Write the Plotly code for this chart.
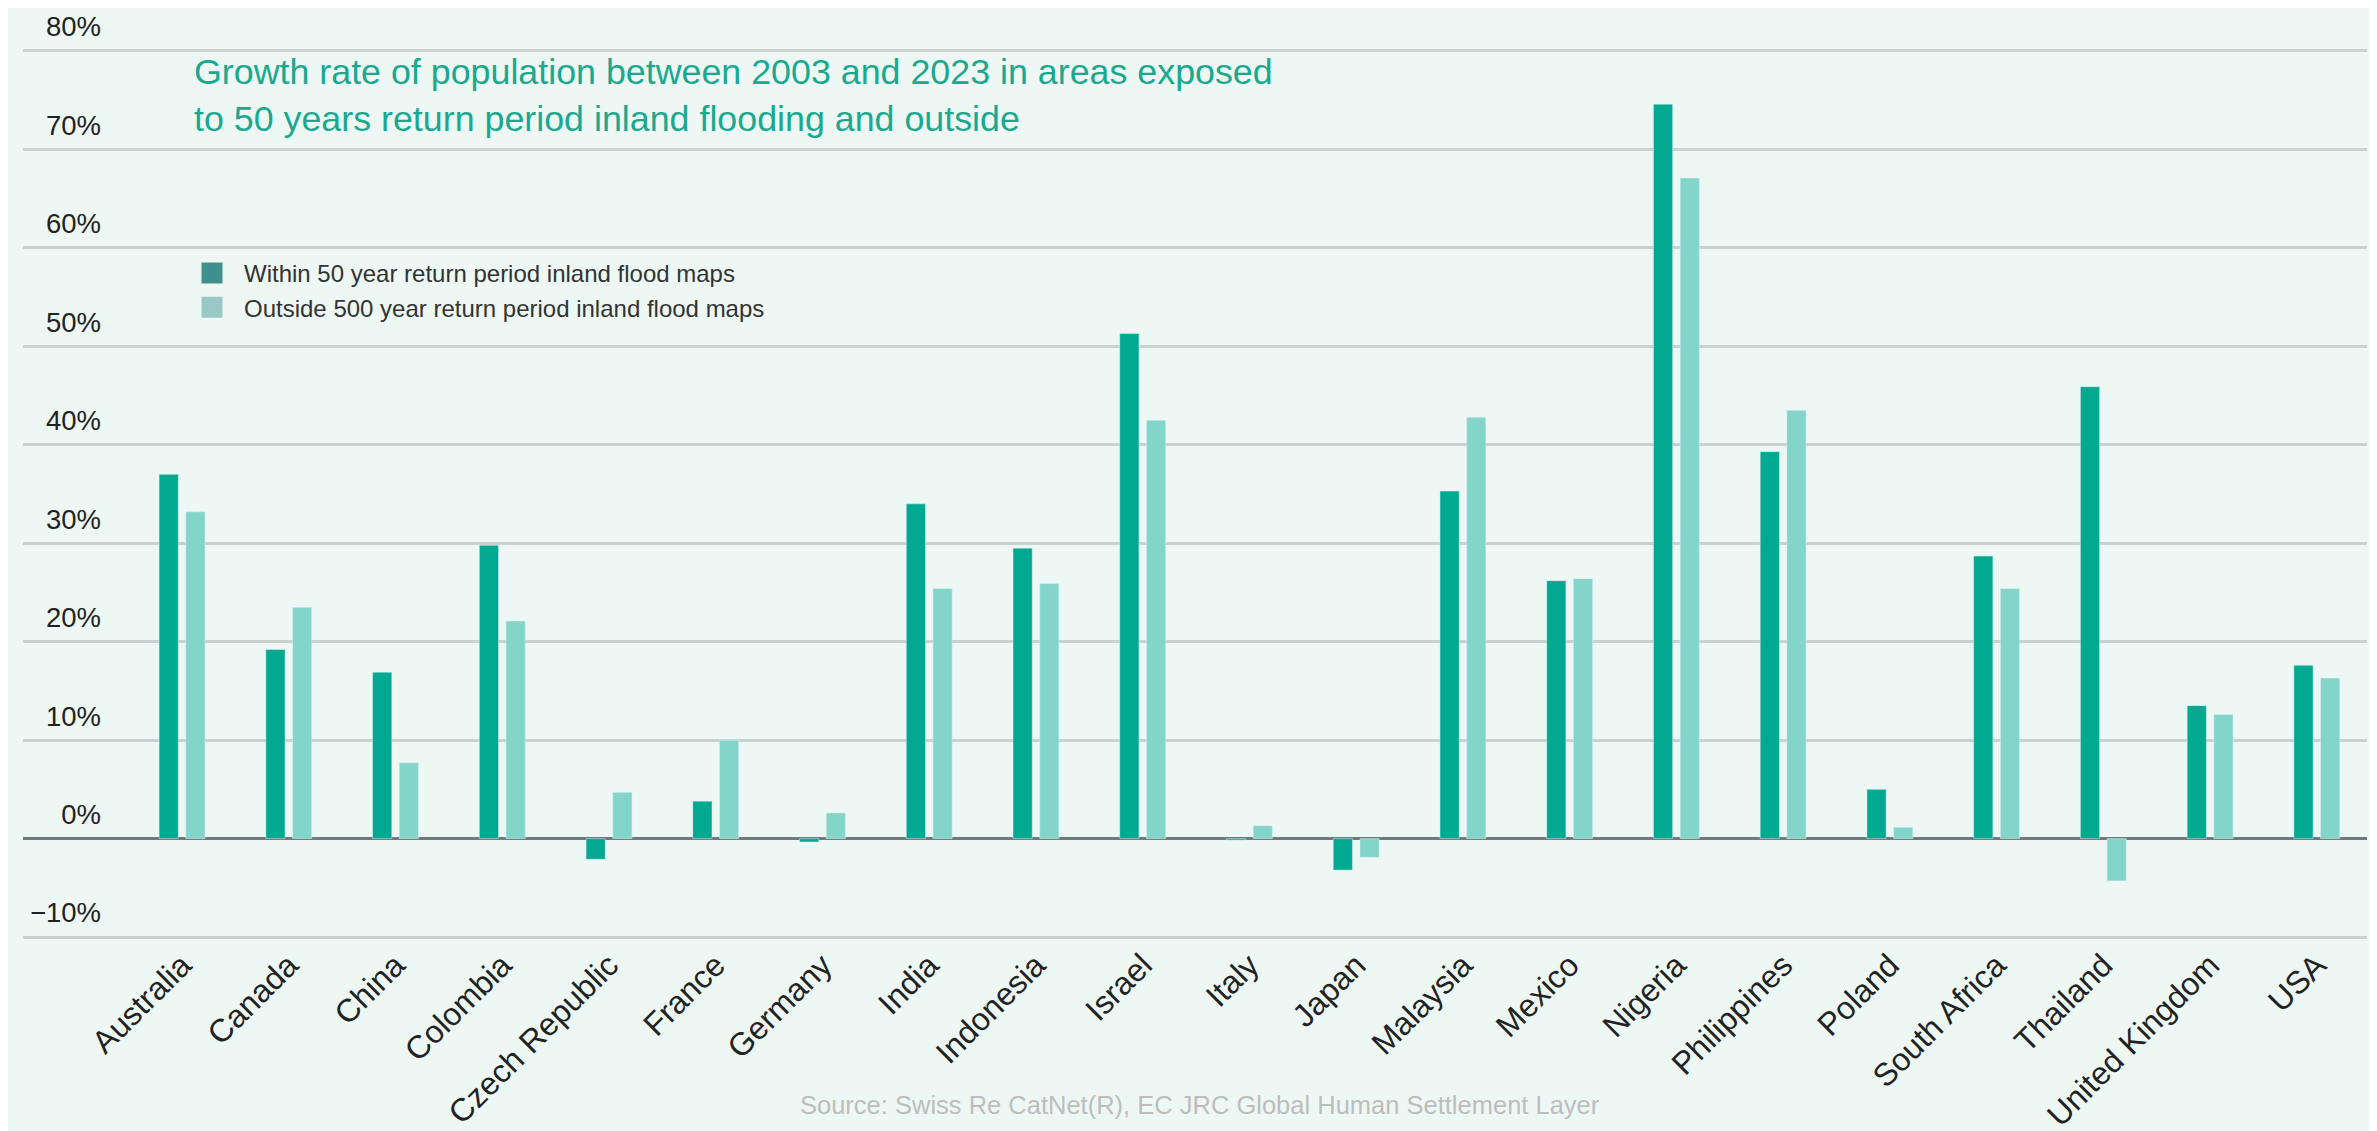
import plotly.graph_objects as go

# 国家 / 两组增长率（%）
COUNTRIES = [
    "Australia", "Canada", "China", "Colombia", "Czech Republic", "France",
    "Germany", "India", "Indonesia", "Israel", "Italy", "Japan", "Malaysia",
    "Mexico", "Nigeria", "Philippines", "Poland", "South Africa", "Thailand",
    "United Kingdom", "USA",
]
WITHIN_50 = [37.0, 19.2, 16.9, 29.8, -2.1, 3.8, -0.35, 34.0, 29.5, 51.3, -0.15,
             -3.2, 35.3, 26.2, 74.6, 39.3, 5.0, 28.7, 45.9, 13.5, 17.6]
OUTSIDE_500 = [33.2, 23.5, 7.7, 22.1, 4.7, 10.0, 2.6, 25.4, 25.9, 42.5, 1.3,
               -1.9, 42.8, 26.4, 67.1, 43.5, 1.15, 25.4, -4.3, 12.6, 16.3]
Y_TICKS = [-10, 0, 10, 20, 30, 40, 50, 60, 70, 80]
Y_TICK_TEXT = ["\u221210%", "0%", "10%", "20%", "30%", "40%", "50%", "60%", "70%", "80%"]

NAME_IN = "Within 50 year return period inland flood maps"
NAME_OUT = "Outside 500 year return period inland flood maps"
TITLE = ("Growth rate of population between 2003 and 2023 in areas exposed<br>"
         "to 50 years return period inland flooding and outside")
SOURCE = "Source: Swiss Re CatNet(R), EC JRC Global Human Settlement Layer"

BG = "#EDF8F5"
DARK = "#00A98F"
LIGHT = "#84D5C9"
FONT = "Liberation Sans, Arial, sans-serif"

fig = go.Figure()
fig.add_trace(go.Bar(x=COUNTRIES, y=WITHIN_50, name=NAME_IN, marker_color=DARK,
                     showlegend=False))
fig.add_trace(go.Bar(x=COUNTRIES, y=OUTSIDE_500, name=NAME_OUT, marker_color=LIGHT,
                     showlegend=False))
# 图例色块颜色与柱子略有不同，单独放两个只用于图例的条目
for name, col in [(NAME_IN, "#3F8F8F"), (NAME_OUT, "#98C9C6")]:
    fig.add_trace(go.Scatter(x=[None], y=[None], mode="markers", name=name,
                             marker=dict(symbol="square", size=16, color=col,
                                         line=dict(color=col, width=5))))

fig.update_layout(
    width=2377, height=1131,
    margin=dict(l=15, r=18, t=41, b=200),
    paper_bgcolor=BG, plot_bgcolor=BG,
    font=dict(family=FONT, color="#222222"),
    barmode="group", bargap=0.5, bargroupgap=0.28,
    title=dict(text=TITLE, x=(186 - 15) / 2344, xref="paper", xanchor="left",
               y=1 - 76 / 1131, yref="container", yanchor="top",
               font=dict(size=35.8, color="#1AA98F")),
    legend=dict(x=(172 - 15) / 2344, y=1 - (243 - 41) / 890, xanchor="left", yanchor="top",
                bgcolor="rgba(0,0,0,0)", font=dict(size=24, color="#333333"),
                itemsizing="trace", itemwidth=54),
    annotations=[dict(text=SOURCE, xref="paper", yref="paper",
                      x=(1192 - 15) / 2344, y=-(1097 - 931) / 890,
                      xanchor="center", yanchor="middle", showarrow=False,
                      font=dict(size=25.5, color="#BDBDBD"))],
)
fig.update_xaxes(range=[-1.49, 20.47], tickangle=-45, showgrid=False, automargin=False,
                 tickfont=dict(size=32, color="#222222"), ticks="")
fig.update_yaxes(range=[-10.2, 80.2], tickvals=Y_TICKS, ticktext=Y_TICK_TEXT,
                 showgrid=True, gridcolor="#C8D2D0", gridwidth=2.5, automargin=False,
                 zeroline=True, zerolinecolor="#6F7A7E", zerolinewidth=2.5,
                 ticks="", ticklabelposition="outside top", ticklabelstandoff=-79,
                 ticklabelshift=-5, ticklabeloverflow="allow",
                 tickfont=dict(size=27.5, color="#222222"))

fig.write_html("out.html")
